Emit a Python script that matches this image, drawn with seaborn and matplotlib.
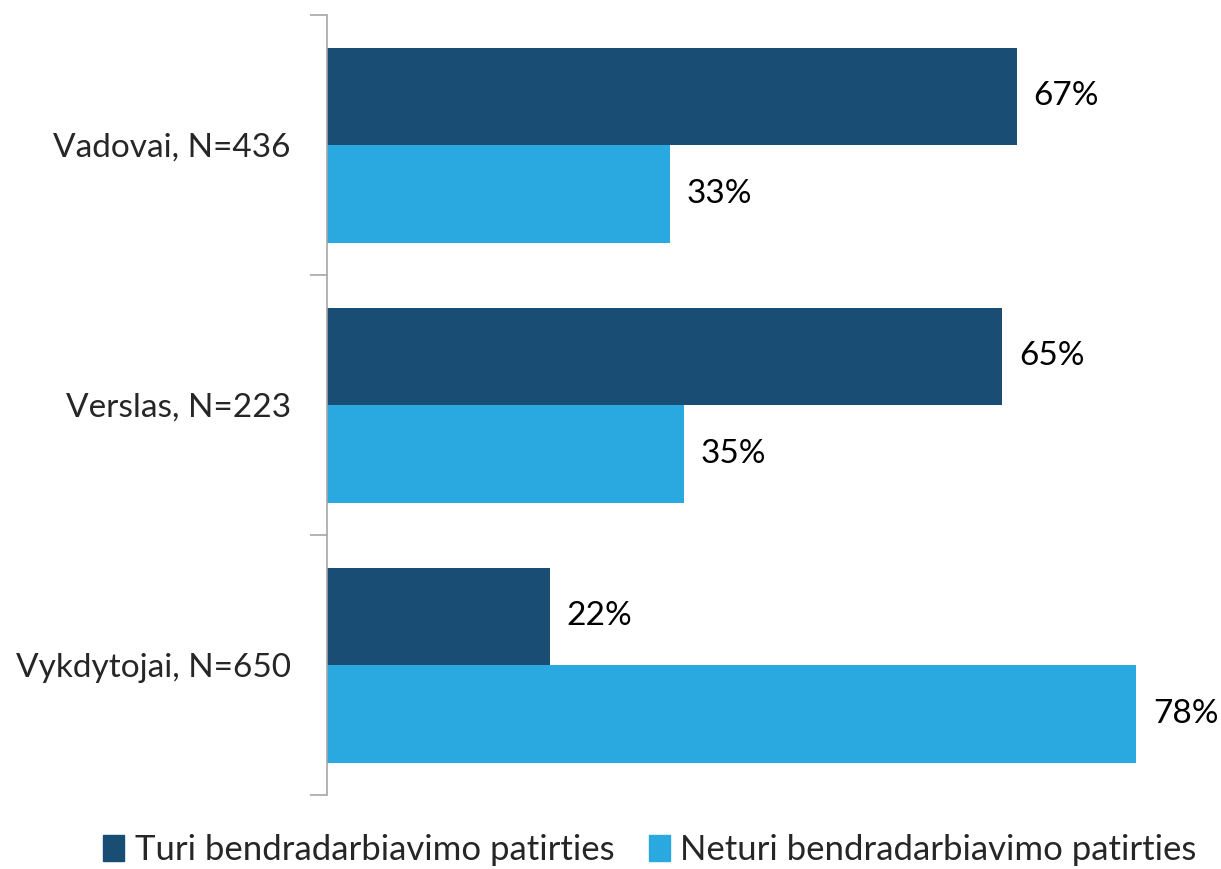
import pandas as pd
import matplotlib.pyplot as plt
import seaborn as sns

# data (shares in %, labels are rounded)
categories = ["Vadovai, N=436", "Verslas, N=223", "Vykdytojai, N=650"]
series = ["Turi bendradarbiavimo patirties", "Neturi bendradarbiavimo patirties"]
turi = [66.8, 65.4, 21.6]
neturi = [33.2, 34.6, 78.4]
colors = ["#1a4d73", "#29a9e0"]

df = pd.DataFrame({
    "cat": categories * 2,
    "series": [series[0]] * 3 + [series[1]] * 3,
    "value": turi + neturi,
})

sns.set_style("white")
plt.rcParams['font.family'] = ['Lato', 'DejaVu Sans']

fig = plt.figure(figsize=(12.21, 8.69), dpi=100)
ax = fig.add_axes([327 / 1221, 74 / 869, 826 / 1221, 780 / 869])

sns.barplot(data=df, y="cat", x="value", hue="series", order=categories,
            hue_order=series, palette=colors, orient="h", width=0.75,
            saturation=1, linewidth=0, legend=False, ax=ax)

# value labels
for cont in ax.containers:
    ax.bar_label(cont, labels=[f"{v:.0f}%" for v in cont.datavalues],
                 padding=12, fontsize=24, color="black")

ax.set_xlim(0, 80)
ax.set_ylim(2.5, -0.5)
ax.set_xlabel("")
ax.set_ylabel("")
ax.set_xticks([])
ax.set_yticks([-0.5, 0.5, 1.5, 2.5])
ax.set_yticklabels([])
ax.set_yticks([0, 1, 2], minor=True)
ax.set_yticklabels(categories, minor=True, fontsize=24)
ax.tick_params(axis="y", which="major", length=12, width=1.2, color="#a6a6a6", left=True)
ax.tick_params(axis="y", which="minor", length=0, pad=26)
for s in ["top", "right", "bottom"]:
    ax.spines[s].set_visible(False)
ax.spines["left"].set_color("#a6a6a6")
ax.spines["left"].set_linewidth(1.2)

handles = [plt.Rectangle((0, 0), 1, 1, color=c) for c in colors]
fig.legend(handles, series, loc="center", bbox_to_anchor=(650 / 1221, 1 - 850 / 869),
           ncol=2, frameon=False, fontsize=25, handlelength=0.6, handleheight=0.8,
           handletextpad=0.3, columnspacing=1.0)

fig.savefig("out.png", dpi=100)
